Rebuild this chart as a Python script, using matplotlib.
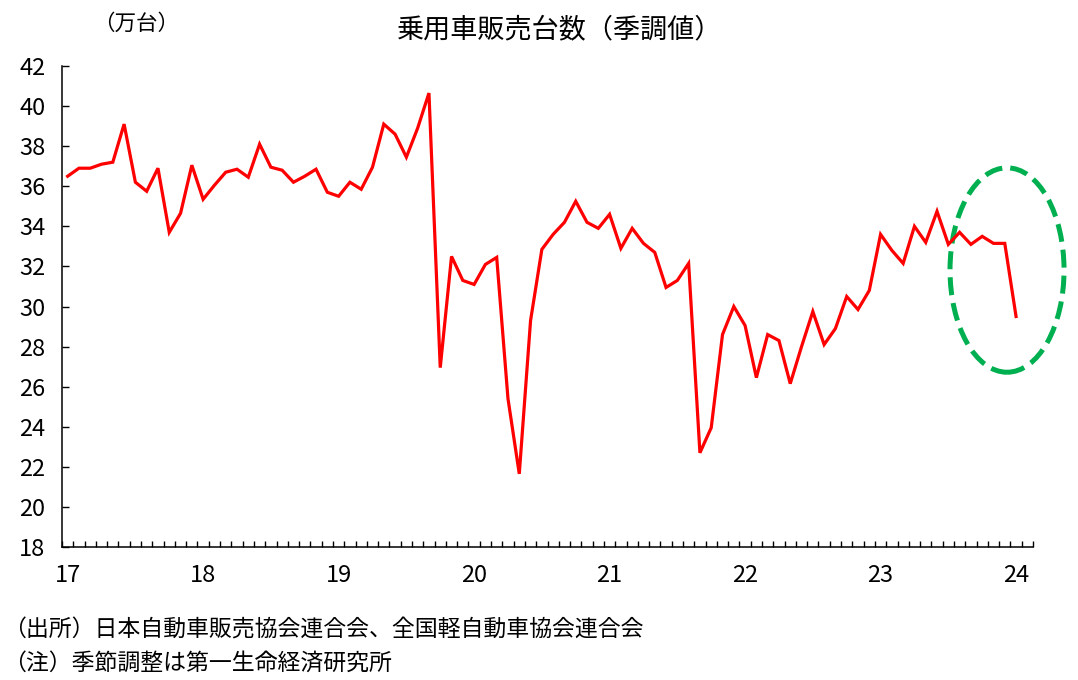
import numpy as np
import matplotlib.pyplot as plt
from matplotlib.patches import Ellipse

plt.rcParams['font.family'] = ['Noto Sans CJK JP', 'DejaVu Sans']

# monthly seasonally adjusted sales, Jan 2017 - Jan 2024 (10k units)
sales = [
    36.5, 36.9, 36.9, 37.1, 37.2, 39.1, 36.2, 35.75, 36.9, 33.7, 34.65, 37.05,   # 2017
    35.35, 36.05, 36.7, 36.85, 36.45, 38.1, 36.95, 36.8, 36.2, 36.5, 36.85, 35.7,  # 2018
    35.5, 36.2, 35.85, 36.95, 39.1, 38.6, 37.45, 38.9, 40.65, 26.95, 32.5, 31.3,  # 2019
    31.1, 32.1, 32.45, 25.4, 21.65, 29.3, 32.85, 33.6, 34.2, 35.25, 34.2, 33.9,   # 2020
    34.6, 32.9, 33.9, 33.15, 32.7, 30.95, 31.3, 32.15, 22.7, 23.95, 28.6, 30.0,   # 2021
    29.05, 26.45, 28.6, 28.3, 26.15, 28.0, 29.75, 28.1, 28.9, 30.5, 29.85, 30.8,  # 2022
    33.6, 32.8, 32.15, 34.0, 33.2, 34.75, 33.1, 33.7, 33.1, 33.5, 33.15, 33.15,   # 2023
    29.5,                                                                         # 2024
]
year_labels = ['17', '18', '19', '20', '21', '22', '23', '24']
n_cats = 86  # axis runs one month past the last data point

title = '乗用車販売台数（季調値）'
unit = '（万台）'
notes = ['（出所）日本自動車販売協会連合会、全国軽自動車協会連合会',
         '（注）季節調整は第一生命経済研究所']

fig = plt.figure(figsize=(10.78, 6.8), dpi=100)
ax = fig.add_axes([62/1078, 1-547/680, (1033-62)/1078, (547-66)/680])

x = np.arange(len(sales))
ax.plot(x, sales, color='#FF0000', lw=2.3, solid_joinstyle='miter')

ax.set_xlim(-0.5, n_cats - 0.5)
ax.set_ylim(18, 42)
ax.set_yticks(np.arange(18, 43, 2))
ax.set_xticks(np.arange(0, 12*len(year_labels), 12))
ax.set_xticklabels(year_labels)
ax.set_xticks(np.arange(-0.5, n_cats, 1), minor=True)

ax.tick_params(axis='x', which='major', length=0, pad=12, labelsize=17)
ax.tick_params(axis='x', which='minor', direction='in', length=4, width=1)
ax.tick_params(axis='y', direction='in', length=5, width=1, pad=12, labelsize=17)

for s in ['top', 'right']:
    ax.spines[s].set_visible(False)
for s in ['left', 'bottom']:
    ax.spines[s].set_linewidth(1.1)

# highlight of the latest months
ell = Ellipse((83.2, 31.82), 10.1, 10.2, fill=False, edgecolor='#00B050',
              lw=3.6, linestyle=(0, (3.6, 1.6)), clip_on=False)
ax.add_patch(ell)

fig.text(560/1078, 1-30/680, title, ha='center', va='center', fontsize=19.5)
fig.text(93/1078, 1-24/680, unit, ha='left', va='center', fontsize=15.5)
fig.text(3/1078, 1-630/680, notes[0], ha='left', va='center', fontsize=16.5)
fig.text(3/1078, 1-663/680, notes[1], ha='left', va='center', fontsize=16.5)

fig.savefig('out.png', dpi=100)
